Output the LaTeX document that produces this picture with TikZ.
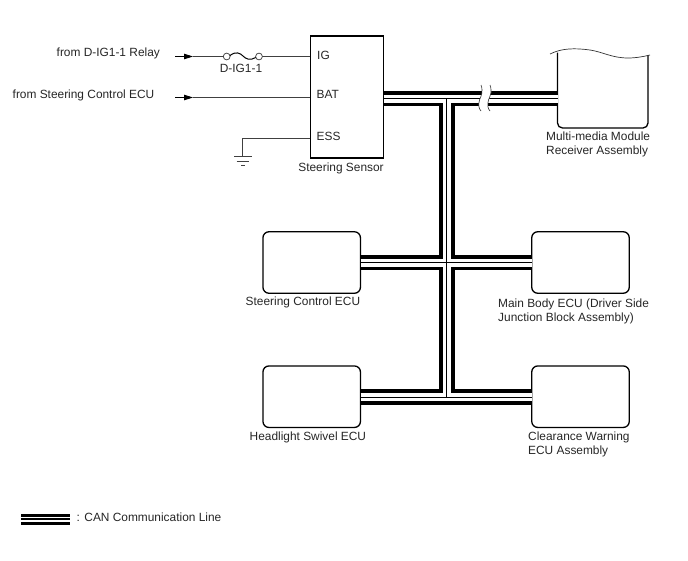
\documentclass[tikz,border=0pt]{standalone}
\usepackage{fontspec}
\setmainfont{Liberation Sans}
\usetikzlibrary{arrows.meta}
\tikzset{
  x=1pt,y=-1pt,
  ecu/.style={draw,line width=1.3pt,rounded corners=6pt,minimum width=97.5pt,minimum height=61.5pt,inner sep=0pt},
  lbl/.style={font=\fontsize{11.9pt}{14pt}\selectfont,align=left,inner sep=0pt,black!85},
  pinlbl/.style={font=\fontsize{11.9pt}{12pt}\selectfont,inner sep=0pt,anchor=west,black!85},
  wire/.style={line width=0.75pt,black!75},
  feed/.style={wire,-{Triangle[length=9pt,width=5.5pt]},black},
  busouter/.style={line width=15.5pt,black,line join=miter},
  businner/.style={line width=8pt,white,line join=miter},
  buscore/.style={line width=0.9pt,black},
  brk/.style={line width=0.6pt,black!80}
}
\begin{document}
\begin{tikzpicture}
\useasboundingbox (0,0) rectangle (688,560);

% Units
\node[draw,line width=1.3pt,minimum width=73.4pt,minimum height=122pt,inner sep=0pt] (sensor) at (347,97) {};
\node[ecu] (scecu) at (311.7,262.5) {};
\node[ecu] (mbecu) at (580.5,262.5) {};
\node[ecu] (hlecu) at (311.7,396.7) {};
\node[ecu] (cwecu) at (580.5,396.7) {};

% Multi-media module: open at the top, closed by a torn edge
\coordinate (mmtl) at (557.5,52.5);
\coordinate (mmbr) at (648,128);
\draw[line width=1.3pt,rounded corners=5pt] (mmtl) -- (mmtl |- mmbr) -- (mmbr) -- (mmbr |- mmtl);
\fill[white] (mmbr |- mmtl) ++(-1.5,-3) rectangle ++(3,5);
\draw[brk,line width=0.7pt] (550,54) .. controls (562,48) and (575,48) .. (590,50) .. controls (603,52) and (612,58) .. (628,58) .. controls (636,58) and (644,56.5) .. (650,55);

% Bus junctions
\coordinate (jtop) at (446.8,98.5);
\coordinate (jbot) at (446.8,397);
\coordinate (mmin) at (557.5,98.5);
\coordinate (senout) at (383.7,98.5);
\coordinate (mbin) at (532,262.5);
\coordinate (scout) at (360.5,262.5);
\coordinate (hlout) at (360.5,397);
\coordinate (cwin) at (532,397);

% CAN bus, stroked in three passes so the tees merge
\foreach \pass in {busouter,businner,buscore}{
  \draw[\pass] (senout) -- (mmin);
  \draw[\pass] (scout) -- (mbin);
  \draw[\pass] (hlout) -- (cwin);
  \draw[\pass] (jtop) -- (jbot);
}

% Line break marks on the top bus
\fill[white] (482,85) -- (491,85) .. controls (492.5,92) and (490,96) .. (488.5,100) .. controls (487,105) and (488,109) .. (490,111) -- (481,111) .. controls (479,109) and (478,105) .. (479.5,100) .. controls (481,96) and (483.5,92) .. (482,85) -- cycle;
\draw[brk] (481,85) .. controls (483.5,92) and (481,96) .. (479.5,100) .. controls (478,105) and (479,109) .. (481,111);
\draw[brk] (490,85) .. controls (492.5,92) and (490,96) .. (488.5,100) .. controls (487,105) and (488,109) .. (490,111);

% Inputs
\coordinate (igsrc) at (175,56.5);
\coordinate (batsrc) at (175,97.5);
\coordinate (igtip) at (193,56.5);
\coordinate (battip) at (193,97.5);
\coordinate (fa) at (226.7,56.5);
\coordinate (fb) at (259,56.5);
\draw[feed] (igsrc) -- (igtip);
\draw[wire] (igtip) -- (fa);
\draw[feed] (batsrc) -- (battip);
\draw[wire] (battip) -- (batsrc -| sensor.west);
\draw[wire] (fb) -- (fb -| sensor.west);

% Fuse
\draw[wire,fill=white] (fa) circle (3.4);
\draw[wire,fill=white] (fb) circle (3.4);
\draw[line width=1pt] (230,55.5) .. controls (236,51) and (240,53) .. (243,56) .. controls (246,59) and (250,61) .. (255.7,57.5);

% Ground
\coordinate (essp) at (310.3,138.5);
\coordinate (gnd) at (242.7,156.5);
\draw[wire] (essp) -| (gnd);
\draw[wire,line width=0.9pt] (234,156.7) -- (252,156.7);
\draw[wire,line width=0.9pt] (236.7,161) -- (249.3,161);
\draw[wire,line width=0.9pt] (241,165) -- (245,165);

% Pin labels
\node[pinlbl] (pinig) at (317,55) {IG};
\node[pinlbl] (pinbat) at (316.5,94.5) {BAT};
\node[pinlbl] (piness) at (316.5,136.7) {ESS};

% Captions
\node[lbl] (lbfuse) at (241,68.3) {D-IG1-1};
\node[lbl,anchor=west] (lbrelay) at (56.5,53.5) {from D-IG1-1 Relay};
\node[lbl,anchor=west] (lbsteer) at (12.5,95) {from Steering Control ECU};
\node[lbl] (lbsensor) at (341,168.5) {Steering Sensor};
\node[lbl,anchor=north west] (lbmm) at (546,131.5) {Multi-media Module\\Receiver Assembly};
\node[lbl,anchor=west] (lbsc) at (245.5,302) {Steering Control ECU};
\node[lbl,anchor=north west] (lbmb) at (498,298.5) {Main Body ECU (Driver Side\\Junction Block Assembly)};
\node[lbl,anchor=west] (lbhl) at (249.5,437) {Headlight Swivel ECU};
\node[lbl,anchor=north west] (lbcw) at (528,431.5) {Clearance Warning\\ECU Assembly};

% Key
\coordinate (keytopa) at (21,515.3);
\coordinate (keytopb) at (69.5,515.3);
\coordinate (keymida) at (21,519.2);
\coordinate (keymidb) at (69.5,519.2);
\coordinate (keybota) at (21,523.3);
\coordinate (keybotb) at (69.5,523.3);
\draw[line width=2.6pt] (keytopa) -- (keytopb);
\draw[line width=1.6pt] (keymida) -- (keymidb);
\draw[line width=2.6pt] (keybota) -- (keybotb);
\node[lbl,anchor=west] (lbkey) at (76.5,517) {: CAN Communication Line};
\end{tikzpicture}
\end{document}
